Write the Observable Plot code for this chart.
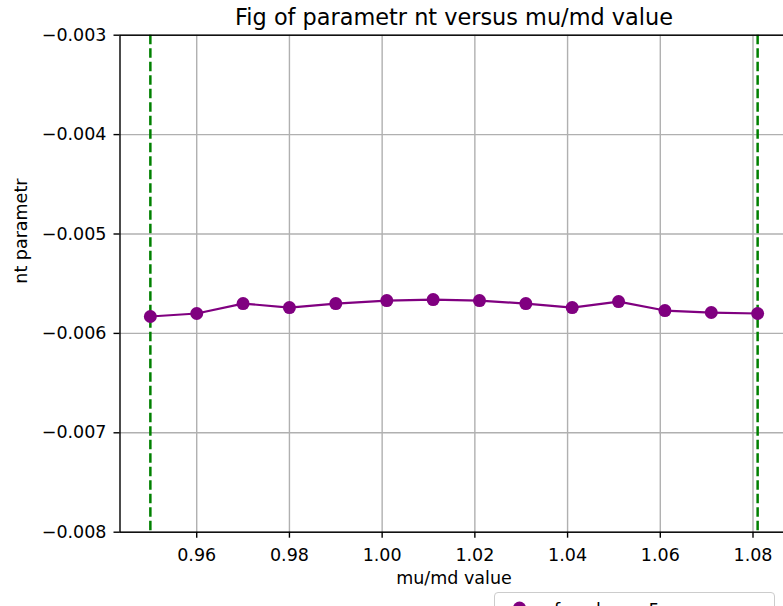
<!DOCTYPE html>
<html>
<head>
<meta charset="utf-8">
<script src="https://cdn.jsdelivr.net/npm/d3@7"></script>
<script src="https://cdn.jsdelivr.net/npm/@observablehq/plot@0.6"></script>
<style>
  html, body { margin: 0; padding: 0; overflow: hidden; background: white; }
  #wrap { position: relative; width: 783px; height: 606px; overflow: hidden; }
  #legend { position: absolute; left: 494px; top: 592px; width: 281px; height: 44px;
    border: 1.4px solid #cccccc; border-radius: 4px; background: rgba(255,255,255,0.8);
    font-family: "DejaVu Sans"; font-size: 17.5px; color: black; box-sizing: border-box; }
  #legend svg { position: absolute; left: 5px; top: 0px; }
  #legend span { position: absolute; left: 59px; top: 7px; white-space: nowrap; }
</style>
</head>
<body>
<div id="wrap"></div>
<script>
// ---- data ----
const muMd = [0.950, 0.960, 0.970, 0.980, 0.990, 1.001, 1.011, 1.021, 1.031, 1.041, 1.051, 1.061, 1.071, 1.081];
const ntParam = [-0.00583, -0.00580, -0.00570, -0.00574, -0.00570, -0.00567, -0.00566, -0.00567, -0.00570, -0.00574, -0.00568, -0.00577, -0.00579, -0.00580];
const vLines = [0.95, 1.081];
const xTicks = [0.96, 0.98, 1.00, 1.02, 1.04, 1.06, 1.08];
const yTicks = [-0.008, -0.007, -0.006, -0.005, -0.004, -0.003];
const titleText = "Fig of parametr nt versus mu/md value";
const xLabel = "mu/md value";
const yLabel = "nt parametr";
const legendLabel = "fs value = 5";

const data = muMd.map((x, i) => ({x, y: ntParam[i]}));

const chart = Plot.plot({
  width: 783,
  height: 606,
  marginLeft: 119.5,
  marginRight: -4.5,
  marginTop: 34.7,
  marginBottom: 74.3,
  style: {fontFamily: "DejaVu Sans", background: "white", color: "black", overflow: "hidden"},
  x: {domain: [0.94345, 1.08755]},
  y: {domain: [-0.008, -0.003]},
  marks: [
    Plot.gridX({ticks: xTicks, stroke: "#b0b0b0", strokeOpacity: 1, strokeWidth: 1.4}),
    Plot.gridY({ticks: yTicks, stroke: "#b0b0b0", strokeOpacity: 1, strokeWidth: 1.4}),
    Plot.ruleX(vLines, {stroke: "#008000", strokeWidth: 2.5, strokeDasharray: "9.5,4"}),
    Plot.line(data, {x: "x", y: "y", stroke: "#800080", strokeWidth: 2.2}),
    Plot.dot(data, {x: "x", y: "y", r: 6.5, fill: "#800080", stroke: "none"}),
    Plot.frame({stroke: "black", strokeWidth: 1.4}),
    Plot.axisX({ticks: xTicks, tickFormat: d3.format(".2f"), tickSize: 6, tickPadding: 10,
      fontSize: 17.5, label: null, strokeWidth: 1.4, stroke: "black", fill: "black"}),
    Plot.axisY({ticks: yTicks, tickFormat: d3.format(".3f"), tickSize: 6, tickPadding: 7.5,
      fontSize: 17.5, label: null, strokeWidth: 1.4, stroke: "black", fill: "black"}),
    Plot.text([titleText], {frameAnchor: "top", lineAnchor: "middle", dy: -17.8, fontSize: 22.4, fill: "black"}),
    Plot.text([xLabel], {frameAnchor: "bottom", lineAnchor: "middle", dy: 46.5, fontSize: 17.5, fill: "black"}),
    Plot.text([yLabel], {frameAnchor: "left", lineAnchor: "middle", rotate: -90, dx: -99, fontSize: 17.5, fill: "black"})
  ]
});

const wrap = document.getElementById("wrap");
wrap.appendChild(chart);

const legend = document.createElement("div");
legend.id = "legend";
legend.innerHTML = `<svg width="40" height="30"><line x1="2" x2="37" y1="15" y2="15" stroke="#800080" stroke-width="2.2"/><circle cx="19.5" cy="15" r="6.5" fill="#800080"/></svg><span>${legendLabel}</span>`;
wrap.appendChild(legend);
</script>
</body>
</html>
